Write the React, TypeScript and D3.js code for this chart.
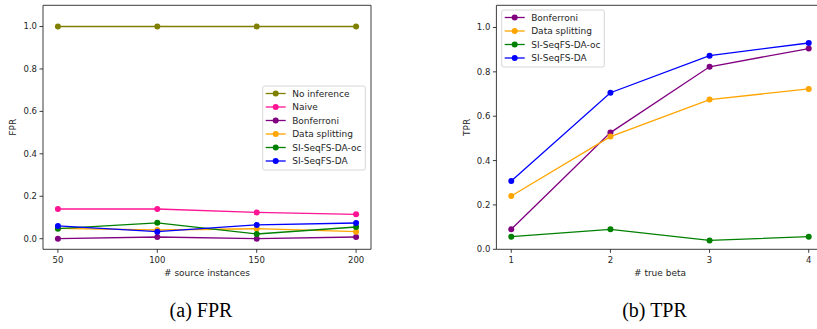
import React from "react";
import * as d3 from "d3";

// FPR panel data
const sourceInstances = [50, 100, 150, 200];
const fprNoInference = [1.0, 1.0, 1.0, 1.0];
const fprNaive = [0.14, 0.14, 0.124, 0.115];
const fprBonferroni = [0.0, 0.008, 0.0, 0.008];
const fprDataSplitting = [0.049, 0.041, 0.047, 0.033];
const fprOc = [0.047, 0.075, 0.022, 0.055];
const fprDA = [0.06, 0.033, 0.065, 0.074];

// TPR panel data
const trueBeta = [1, 2, 3, 4];
const tprBonferroni = [0.09, 0.526, 0.823, 0.905];
const tprDataSplitting = [0.24, 0.508, 0.675, 0.723];
const tprOc = [0.057, 0.09, 0.04, 0.057];
const tprDA = [0.308, 0.706, 0.873, 0.93];

const yTicks = [0, 0.2, 0.4, 0.6, 0.8, 1.0];

type Series = { name: string; color: string; values: number[] };

const fprSeries: Series[] = [
  { name: "No inference", color: "#808000", values: fprNoInference },
  { name: "Naive", color: "#ff1493", values: fprNaive },
  { name: "Bonferroni", color: "#800080", values: fprBonferroni },
  { name: "Data splitting", color: "#ffa500", values: fprDataSplitting },
  { name: "SI-SeqFS-DA-oc", color: "#008000", values: fprOc },
  { name: "SI-SeqFS-DA", color: "#0000ff", values: fprDA },
];

const tprSeries: Series[] = [
  { name: "Bonferroni", color: "#800080", values: tprBonferroni },
  { name: "Data splitting", color: "#ffa500", values: tprDataSplitting },
  { name: "SI-SeqFS-DA-oc", color: "#008000", values: tprOc },
  { name: "SI-SeqFS-DA", color: "#0000ff", values: tprDA },
];

const FONT = "DejaVu Sans, sans-serif";

type PanelProps = {
  left: number;
  right: number;
  top: number;
  bottom: number;
  xs: number[];
  xTickFmt: (v: number) => string;
  xDomain: [number, number];
  yDomain: [number, number];
  series: Series[];
  xLabel: string;
  yLabel: string;
  yLabelX: number;
  legend: { x: number; y: number; w: number };
  drawRightSpine: boolean;
};

function Panel(p: PanelProps) {
  const x = d3.scaleLinear().domain(p.xDomain).range([p.left, p.right]);
  const y = d3.scaleLinear().domain(p.yDomain).range([p.bottom, p.top]);
  const line = d3
    .line<number>()
    .x((_, i) => x(p.xs[i]))
    .y((v) => y(v));
  const rowH = 13.5;
  const legH = p.series.length * rowH + 3;
  const spine = "#262626";
  return (
    <g>
      {/* data lines and markers */}
      {p.series.map((s) => (
        <g key={s.name}>
          <path d={line(s.values) || ""} fill="none" stroke={s.color} strokeWidth={1.3} />
          {s.values.map((v, i) => (
            <circle key={i} cx={x(p.xs[i])} cy={y(v)} r={3} fill={s.color} />
          ))}
        </g>
      ))}
      {/* spines */}
      <line x1={p.left} x2={p.left} y1={p.top} y2={p.bottom} stroke={spine} strokeWidth={0.9} />
      <line x1={p.left} x2={p.right} y1={p.bottom} y2={p.bottom} stroke={spine} strokeWidth={0.9} />
      <line x1={p.left} x2={p.right} y1={p.top} y2={p.top} stroke={spine} strokeWidth={0.9} />
      {p.drawRightSpine && (
        <line x1={p.right} x2={p.right} y1={p.top} y2={p.bottom} stroke={spine} strokeWidth={0.9} />
      )}
      {/* y ticks */}
      {yTicks.map((t) => (
        <g key={t}>
          <line x1={p.left - 3.5} x2={p.left} y1={y(t)} y2={y(t)} stroke={spine} strokeWidth={0.9} />
          <text
            x={p.left - 6}
            y={y(t)}
            dy="0.35em"
            textAnchor="end"
            fontFamily={FONT}
            fontSize={8.5}
            fill="#262626"
          >
            {t.toFixed(1)}
          </text>
        </g>
      ))}
      {/* x ticks */}
      {p.xs.map((t) => (
        <g key={t}>
          <line x1={x(t)} x2={x(t)} y1={p.bottom} y2={p.bottom + 3.5} stroke={spine} strokeWidth={0.9} />
          <text
            x={x(t)}
            y={p.bottom + 14}
            textAnchor="middle"
            fontFamily={FONT}
            fontSize={8.5}
            fill="#262626"
          >
            {p.xTickFmt(t)}
          </text>
        </g>
      ))}
      <text
        x={(p.left + p.right) / 2}
        y={p.bottom + 27}
        textAnchor="middle"
        fontFamily={FONT}
        fontSize={9}
        fill="#262626"
      >
        {p.xLabel}
      </text>
      <text
        transform={`translate(${p.yLabelX},${(p.top + p.bottom) / 2}) rotate(-90)`}
        textAnchor="middle"
        fontFamily={FONT}
        fontSize={9}
        fill="#262626"
      >
        {p.yLabel}
      </text>
      {/* legend */}
      <rect
        x={p.legend.x}
        y={p.legend.y}
        width={p.legend.w}
        height={legH}
        rx={2}
        fill="white"
        fillOpacity={0.8}
        stroke="#cccccc"
        strokeWidth={0.8}
      />
      {p.series.map((s, i) => {
        const cy = p.legend.y + 7.5 + i * rowH;
        return (
          <g key={s.name}>
            <line
              x1={p.legend.x + 3}
              x2={p.legend.x + 23}
              y1={cy}
              y2={cy}
              stroke={s.color}
              strokeWidth={1.3}
            />
            <circle cx={p.legend.x + 13} cy={cy} r={3} fill={s.color} />
            <text
              x={p.legend.x + 29.5}
              y={cy}
              dy="0.35em"
              fontFamily={FONT}
              fontSize={9}
              fill="#262626"
            >
              {s.name}
            </text>
          </g>
        );
      })}
    </g>
  );
}

export default function App() {
  return (
    <div style={{ position: "absolute", left: 0, top: 0 }}>
      <svg width={817} height={329} viewBox="0 0 817 329" style={{ display: "block", background: "white" }}>
        <Panel
          left={43}
          right={371}
          top={5.3}
          bottom={249.3}
          xs={sourceInstances}
          xTickFmt={(v) => String(v)}
          xDomain={[42.5, 207.5]}
          yDomain={[-0.05, 1.1]}
          series={fprSeries}
          xLabel="# source instances"
          yLabel="FPR"
          yLabelX={16}
          legend={{ x: 262.7, y: 86, w: 102.6 }}
          drawRightSpine={true}
        />
        <Panel
          left={496.4}
          right={823.6}
          top={5.3}
          bottom={249.3}
          xs={trueBeta}
          xTickFmt={(v) => String(v)}
          xDomain={[0.85, 4.15]}
          yDomain={[0, 1.1]}
          series={tprSeries}
          xLabel="# true beta"
          yLabel="TPR"
          yLabelX={470}
          legend={{ x: 501.7, y: 10, w: 102.6 }}
          drawRightSpine={true}
        />
        <text x={201} y={317} textAnchor="middle" fontFamily="Liberation Serif, Times New Roman, serif" fontSize={20} fill="#000">
          (a) FPR
        </text>
        <text x={654.5} y={317} textAnchor="middle" fontFamily="Liberation Serif, Times New Roman, serif" fontSize={20} fill="#000">
          (b) TPR
        </text>
      </svg>
    </div>
  );
}
